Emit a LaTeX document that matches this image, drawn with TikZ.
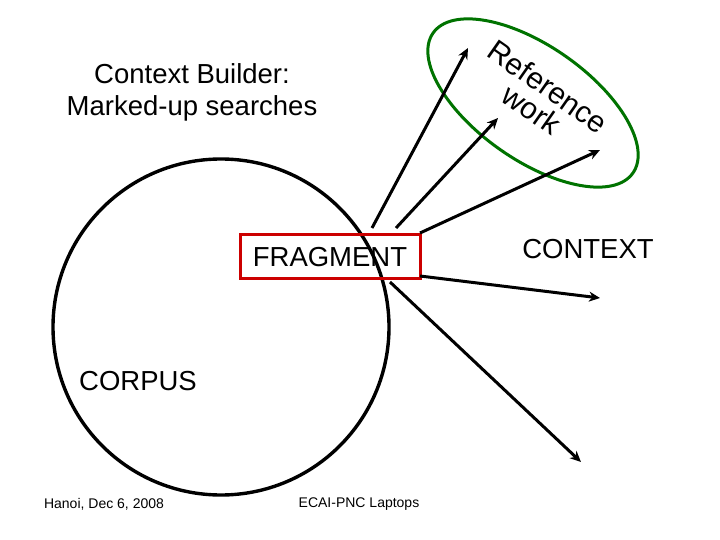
\documentclass[tikz,border=0pt]{standalone}
\usepackage{fontspec}
\setmainfont{Liberation Sans}
\usetikzlibrary{arrows.meta}
\begin{document}
\begin{tikzpicture}[x=1pt,y=-1pt,
  lbl/.style={inner sep=0pt,font=\fontsize{27.5}{32}\selectfont},
  arr/.style={line width=3pt,-{Stealth[length=11pt,width=10pt]}}]
\useasboundingbox (0,0) rectangle (720,540);
\draw[line width=3.4pt] (221,327) circle (168);
\node[draw=red!80!black,line width=3pt,minimum width=180pt,minimum height=44pt,inner sep=0pt] (frag) at (330,256) {};
\node[lbl] (fragt) at (330,257) {FRAGMENT};
\draw[green!45!black,line width=3pt,rotate around={-35:(533,103)}] (533,103) ellipse (122 and 57);
\node[lbl,rotate=-35,font=\fontsize{30}{28}\selectfont,align=center] (ref) at (540,98) {Reference\\work};
\coordinate (t1) at (468,48);
\coordinate (t2) at (498,118);
\coordinate (t3) at (600,150);
\coordinate (t4) at (600,298);
\coordinate (t5) at (581,462);
\coordinate (s1) at (372,228);
\coordinate (s2) at (396,228);
\coordinate (s3) at (420,233);
\coordinate (s4) at (420,276);
\coordinate (s5) at (390,282);
\draw[arr] (s1) -- (t1);
\draw[arr] (s2) -- (t2);
\draw[arr] (s3) -- (t3);
\draw[arr] (s4) -- (t4);
\draw[arr] (s5) -- (t5);
\node[lbl,align=center] (cb) at (192,92) {Context Builder:\\Marked-up searches};
\node[lbl] (ctx) at (588,249) {CONTEXT};
\node[lbl] (corpus) at (138,381) {CORPUS};
\node[inner sep=0pt,font=\fontsize{14}{16}\selectfont] (f1) at (104,504) {Hanoi, Dec 6, 2008};
\node[inner sep=0pt,font=\fontsize{14}{16}\selectfont] (f2) at (359,504) {ECAI-PNC Laptops};
\end{tikzpicture}
\end{document}
